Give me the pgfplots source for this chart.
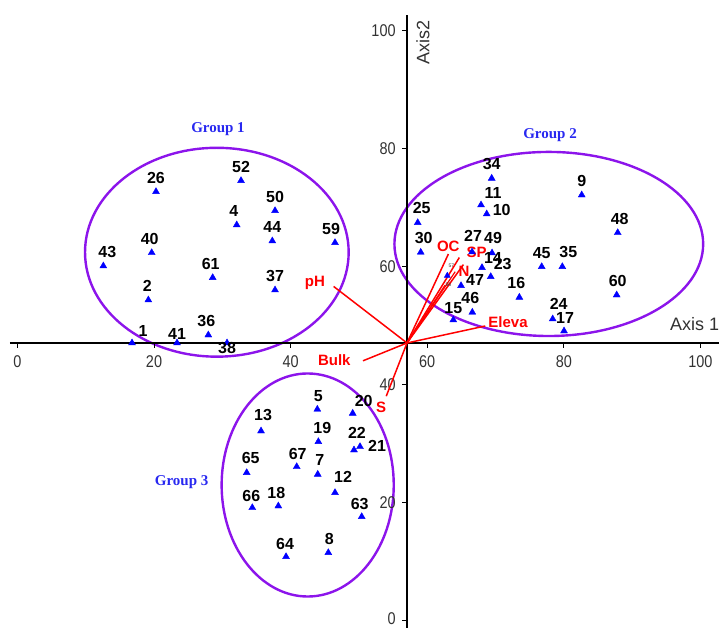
\documentclass[border=0pt]{standalone}
\usepackage{graphicx}
\usepackage{pgfplots}
\pgfplotsset{compat=1.18}
\usepackage{pgfplotstable}
\usepackage{fontspec}
\setmainfont{Liberation Sans}
\newfontfamily\timesfont{Liberation Serif}
\definecolor{ellc}{RGB}{140,20,235}
\definecolor{ptb}{RGB}{0,0,255}
\definecolor{grpb}{RGB}{40,40,240}
\definecolor{vred}{RGB}{255,0,0}
\definecolor{axg}{RGB}{50,50,50}
\tikzset{
  ticklab/.style={text=axg, font=\fontsize{17}{17}\selectfont, inner sep=0pt},
  redlab/.style={text=vred, font=\fontsize{15}{15}\selectfont\bfseries, inner sep=0pt},
  grplab/.style={text=grpb, font=\fontsize{15}{15}\selectfont\timesfont\bfseries, inner sep=0pt}
}

\pgfplotstableread{
x y lab dx dy
20.29 72.76 26 0 14
32.74 74.63 52 0 14
37.72 69.54 50 0 14
32.11 67.12 4 -3 14
37.32 64.41 44 0 14
46.50 64.12 59 -4 14
19.66 62.42 40 -2 14
12.58 60.17 43 4 14
28.59 58.19 61 -2 14
37.72 56.10 37 0 14
19.17 54.41 2 -1 14
27.95 48.47 36 -2 14
16.78 47.12 1 11 12
23.37 47.12 41 0 9
30.69 47.12 38 0 -5
69.44 75.03 34 0 14
82.62 72.20 9 0 14
67.88 70.51 11 12 12
68.71 68.98 10 15 4
58.61 67.51 25 4 15
87.89 65.81 48 2 14
59.05 62.49 30 3 14
66.56 62.54 27 1 16
69.49 62.37 49 1 15
68.02 59.88 14 11 10
69.30 58.36 23 12 13
64.95 56.83 47 14 6
76.76 60.05 45 0 14
79.78 60.05 35 6 15
87.74 55.25 60 1 14
73.49 54.86 16 -3 14
78.37 51.19 24 6 15
80.03 49.15 17 1 13
66.60 52.32 46 -2 14
63.82 51.02 15 0 12
43.91 35.88 5 1 13
49.09 35.20 20 11 12
35.67 32.20 13 2 16
44.06 30.39 19 4 14
49.28 28.98 22 3 17
50.16 29.54 21 17 1
33.57 25.14 65 4 15
40.89 26.15 67 1 13
43.97 24.86 7 2 14
46.50 21.75 12 8 16
34.39 19.20 66 -1 12
38.20 19.49 18 -2 13
50.41 17.68 63 -2 13
39.33 10.90 64 -1 13
45.52 11.58 8 1 14
}\pts

\begin{document}
\begin{tikzpicture}
\begin{axis}[name=ax,
  x=6.83pt, y=5.9pt,
  xmin=-2.548, xmax=102.72, ymin=-1.186, ymax=105.25,
  axis line style={draw=none}, xtick=\empty, ytick=\empty,
  clip=false]

% group ellipses
\draw[ellc, line width=2.4pt] (axis cs:29.2,62.5) ellipse [x radius=19.3, y radius=17.7];
\draw[ellc, line width=2.4pt] (axis cs:77.8,63.9) ellipse [x radius=22.6, y radius=15.6];
\draw[ellc, line width=2.4pt] (axis cs:42.5,23.05) ellipse [x radius=12.6, y radius=18.9];

% axes
\draw[black, line width=1.6pt] (axis cs:-1.1,47.12) -- (axis cs:102.72,47.12);
\draw[black, line width=1.6pt] (axis cs:57.04,-1.19) -- (axis cs:57.04,102.7);
\pgfplotsinvokeforeach{0,20,40,60,80,100}{
  \draw[black, line width=1pt] (axis cs:#1,47.12) -- ++(0pt,-5pt);
  \node[ticklab] at (axis cs:#1,43.9) {\scalebox{0.85}[1]{#1}};
  \draw[black, line width=1pt] (axis cs:57.04,#1) -- ++(-5pt,0pt);
}
\pgfplotsinvokeforeach{20,40,60,80,100}{
  \node[ticklab, anchor=east] at (axis cs:55.4,#1) {\scalebox{0.85}[1]{#1}};
}
\node[ticklab, anchor=east] at (axis cs:55.4,0.45) {\scalebox{0.85}[1]{0}};
\node[text=axg, font=\fontsize{18}{18}\selectfont, anchor=west, inner sep=0pt] at (axis cs:95.55,50.34) {Axis 1};
\node[text=axg, font=\fontsize{18}{18}\selectfont, rotate=90, inner sep=0pt] at (axis cs:59.39,97.97) {Axis2};

% environmental vectors
\addplot[vred, line width=1.5pt] coordinates {(57.04,47.12) (46.3,56.7)};
\addplot[vred, line width=1.5pt] coordinates {(57.04,47.12) (50.6,44.1)};
\addplot[vred, line width=1.5pt] coordinates {(57.04,47.12) (54.0,38.1)};
\addplot[vred, line width=1.5pt] coordinates {(57.04,47.12) (68.5,50.0)};
\addplot[vred, line width=1.5pt] coordinates {(57.04,47.12) (63.1,62.2)};
\addplot[vred, line width=1.5pt] coordinates {(57.04,47.12) (64.7,61.6)};
\addplot[vred, line width=1.5pt] coordinates {(57.04,47.12) (65.3,60.4)};
\addplot[vred, line width=1.2pt] coordinates {(57.04,47.12) (64.1,59.2)};
\addplot[vred, line width=1.2pt] coordinates {(57.04,47.12) (62.6,56.9)};

% sites
\addplot[only marks, mark=triangle*, mark size=4pt, color=ptb,
  point meta=explicit symbolic,
  nodes near coords,
  visualization depends on={\thisrow{dx} \as \ldx},
  visualization depends on={\thisrow{dy} \as \ldy},
  every node near coord/.append style={anchor=center, xshift=\ldx pt, yshift=\ldy pt, text=black, font=\fontsize{16}{16}\selectfont\bfseries, inner sep=0pt}
] table[x=x, y=y, meta=lab] {\pts};

\addplot[only marks, mark=triangle*, mark size=3.5pt, color=ptb,
  point meta=explicit symbolic, nodes near coords,
  every node near coord/.append style={anchor=center, xshift=4pt, yshift=10pt, text=axg, font=\fontsize{5}{5}\selectfont, inner sep=0pt}
] coordinates {(62.94,58.53) [57]};
\node[text=axg, font=\fontsize{5}{5}\selectfont, inner sep=0pt] at (axis cs:63.09,56.99) {56};

% variable labels
\node[redlab] at (axis cs:43.56,57.34) {pH};
\node[redlab] at (axis cs:46.40,44.24) {Bulk};
\node[redlab] at (axis cs:53.24,36.22) {S};
\node[redlab] at (axis cs:63.09,63.44) {OC};
\node[redlab] at (axis cs:67.25,62.49) {SP};
\node[redlab] at (axis cs:65.39,59.32) {N};
\node[redlab] at (axis cs:71.83,50.68) {Eleva};

% group titles
\node[grplab] at (axis cs:29.37,83.39) {Group 1};
\node[grplab] at (axis cs:77.98,82.37) {Group 2};
\node[grplab] at (axis cs:24.05,23.61) {Group 3};
\end{axis}
\pgfresetboundingbox
\path (ax.south west) rectangle (ax.north east);
\end{tikzpicture}
\end{document}
